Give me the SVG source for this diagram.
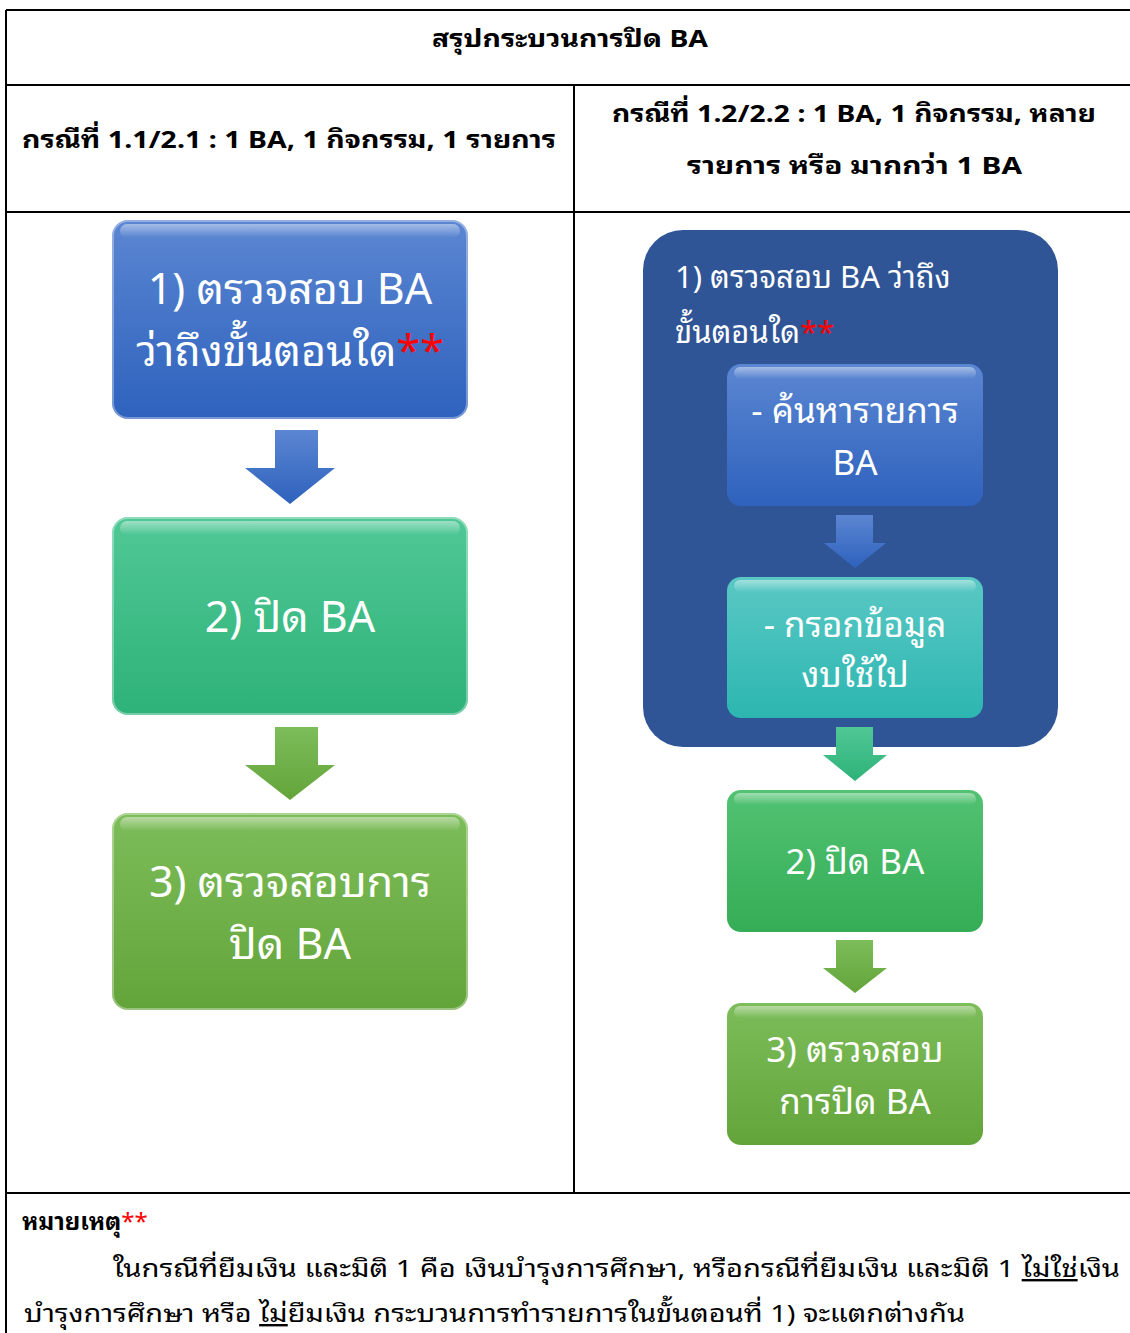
<svg xmlns="http://www.w3.org/2000/svg" width="1130" height="1333" viewBox="0 0 1130 1333">
<defs>
<linearGradient id="gBlue" x1="0" y1="0" x2="0" y2="1"><stop offset="0" stop-color="#5B86D2"/><stop offset="1" stop-color="#2E62BD"/></linearGradient>
<linearGradient id="gTeal" x1="0" y1="0" x2="0" y2="1"><stop offset="0" stop-color="#50C896"/><stop offset="1" stop-color="#2EB279"/></linearGradient>
<linearGradient id="gGreen" x1="0" y1="0" x2="0" y2="1"><stop offset="0" stop-color="#7DBD5A"/><stop offset="1" stop-color="#63A43A"/></linearGradient>
<linearGradient id="gGreen2" x1="0" y1="0" x2="0" y2="1"><stop offset="0" stop-color="#52C272"/><stop offset="1" stop-color="#35AD56"/></linearGradient>
<linearGradient id="gAqua" x1="0" y1="0" x2="0" y2="1"><stop offset="0" stop-color="#5AC8C4"/><stop offset="1" stop-color="#2DB6B1"/></linearGradient>
<linearGradient id="gHi" x1="0" y1="0" x2="0" y2="1"><stop offset="0" stop-color="#ffffff" stop-opacity="0.45"/><stop offset="1" stop-color="#ffffff" stop-opacity="0"/></linearGradient>
</defs>
<style>
.line{stroke:#000;stroke-width:2;fill:none}
.hd{font-family:"Noto Sans Thai Looped","Noto Sans Thai","Noto Sans","DejaVu Sans",sans-serif;font-size:24px;fill:#000;font-weight:bold}
.bx{font-family:"Noto Sans Thai Looped","Noto Sans Thai","Noto Sans","DejaVu Sans",sans-serif;fill:#fff;text-anchor:middle}
.wt{font-family:"Noto Sans Thai Looped","Noto Sans Thai","Noto Sans","DejaVu Sans",sans-serif;fill:#fff;font-size:31px}
.note{font-family:"Noto Sans Thai Looped","Noto Sans Thai","Noto Sans","DejaVu Sans",sans-serif;font-size:24px;fill:#000}
.red{fill:#FF0000}
.hi{fill:url(#gHi)}
.edge{fill:none;stroke:#ffffff;stroke-opacity:0.35;stroke-width:2}
</style>
<rect x="0" y="0" width="1130" height="1333" fill="#fff"/>
<g id="table">
<path class="line" d="M6 10H1130M6 85H1130M6 212H1130M6 1193H1130M6 10V1333M574 85V1193"/>
</g>
<g id="headers">
<text class="hd" x="570" y="47" text-anchor="middle" textLength="276" lengthAdjust="spacingAndGlyphs">สรุปกระบวนการปิด BA</text>
<text class="hd" x="22" y="148" textLength="534" lengthAdjust="spacingAndGlyphs">กรณีที่ 1.1/2.1 : 1 BA, 1 กิจกรรม, 1 รายการ</text>
<text class="hd" x="612" y="122" textLength="484" lengthAdjust="spacingAndGlyphs">กรณีที่ 1.2/2.2 : 1 BA, 1 กิจกรรม, หลาย</text>
<text class="hd" x="687" y="174" textLength="335" lengthAdjust="spacingAndGlyphs">รายการ  หรือ มากกว่า 1 BA</text>
</g>
<g id="node-l1">
<rect x="112" y="220" width="356" height="199" rx="16" fill="url(#gBlue)"/>
<rect x="120" y="224" width="340" height="14" rx="7" class="hi"/>
<rect x="113" y="221" width="354" height="197" rx="15" class="edge"/>
<text class="bx" x="290" y="304" font-size="43">1) ตรวจสอบ BA</text>
<text class="bx" x="290" y="366" font-size="43">ว่าถึงขั้นตอนใด<tspan class="red">**</tspan></text>
</g>
<g id="node-l2">
<rect x="112" y="517" width="356" height="198" rx="16" fill="url(#gTeal)"/>
<rect x="120" y="521" width="340" height="14" rx="7" class="hi"/>
<rect x="113" y="518" width="354" height="196" rx="15" class="edge"/>
<text class="bx" x="290" y="632" font-size="43">2) ปิด BA</text>
</g>
<g id="node-l3">
<rect x="112" y="813" width="356" height="197" rx="16" fill="url(#gGreen)"/>
<rect x="120" y="817" width="340" height="14" rx="7" class="hi"/>
<rect x="113" y="814" width="354" height="195" rx="15" class="edge"/>
<text class="bx" x="290" y="897" font-size="43">3) ตรวจสอบการ</text>
<text class="bx" x="290" y="959" font-size="43">ปิด BA</text>
</g>
<g id="node-r1">
<rect x="643" y="230" width="415" height="517" rx="40" fill="#2F5597"/>
<text class="wt" x="675" y="288">1) ตรวจสอบ BA ว่าถึง</text>
<text class="wt" x="675" y="343">ขั้นตอนใด<tspan class="red">**</tspan></text>
</g>
<g id="node-r1a">
<rect x="727" y="364" width="256" height="142" rx="14" fill="url(#gBlue)"/>
<rect x="734" y="367" width="242" height="12" rx="6" class="hi"/>
<text class="bx" x="855" y="423" font-size="35">- ค้นหารายการ</text>
<text class="bx" x="855" y="475" font-size="35">BA</text>
</g>
<g id="node-r1b">
<rect x="727" y="577" width="256" height="141" rx="14" fill="url(#gAqua)"/>
<rect x="734" y="580" width="242" height="12" rx="6" class="hi"/>
<text class="bx" x="855" y="637" font-size="35">- กรอกข้อมูล</text>
<text class="bx" x="855" y="687" font-size="35">งบใช้ไป</text>
</g>
<g id="node-r2">
<rect x="727" y="790" width="256" height="142" rx="14" fill="url(#gGreen2)"/>
<rect x="734" y="793" width="242" height="12" rx="6" class="hi"/>
<text class="bx" x="855" y="874" font-size="35">2) ปิด BA</text>
</g>
<g id="node-r3">
<rect x="727" y="1003" width="256" height="142" rx="14" fill="url(#gGreen)"/>
<rect x="734" y="1006" width="242" height="12" rx="6" class="hi"/>
<text class="bx" x="855" y="1062" font-size="35">3) ตรวจสอบ</text>
<text class="bx" x="855" y="1114" font-size="35">การปิด BA</text>
</g>
<g id="connectors">
<path d="M275 430H318V468H335L290 504L245 468H275Z" fill="url(#gBlue)"/>
<path d="M275 727H318V765H335L290 800L245 765H275Z" fill="url(#gGreen)"/>
<path d="M836 515H873V543H886L855 568L824 543H836Z" fill="url(#gBlue)"/>
<path d="M836 727H873V755H887L855 781L823 755H836Z" fill="url(#gTeal)"/>
<path d="M836 940H873V968H887L855 993L823 968H836Z" fill="url(#gGreen)"/>
</g>
<g id="note">
<text class="note" x="22" y="1230" font-weight="bold">หมายเหตุ<tspan class="red" font-weight="normal">**</tspan></text>
<text class="note" x="113" y="1277" textLength="1007" lengthAdjust="spacingAndGlyphs">ในกรณีที่ยืมเงิน และมิติ 1 คือ เงินบำรุงการศึกษา,  หรือกรณีที่ยืมเงิน และมิติ 1 <tspan text-decoration="underline">ไม่ใช่</tspan>เงิน</text>
<text class="note" x="24" y="1322" textLength="941" lengthAdjust="spacingAndGlyphs">บำรุงการศึกษา  หรือ <tspan text-decoration="underline">ไม่</tspan>ยืมเงิน กระบวนการทำรายการในขั้นตอนที่ 1) จะแตกต่างกัน</text>
</g>
</svg>
